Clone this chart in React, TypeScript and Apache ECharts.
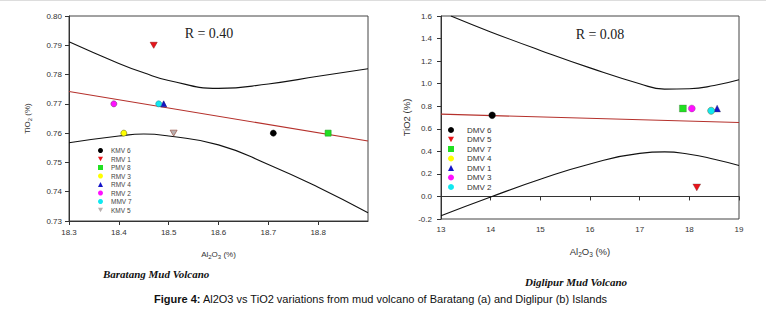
import React, { useEffect, useRef } from "react";
import * as echarts from "echarts";

// ---------- Data: Baratang (left) ----------
const leftNames = ["KMV 6", "RMV 1", "PMV 8", "RMV 3", "RMV 4", "RMV 2", "MMV 7", "KMV 5"];
const leftAl2O3 = [18.71, 18.47, 18.82, 18.41, 18.49, 18.39, 18.48, 18.51];
const leftTiO2 = [0.76, 0.79, 0.76, 0.76, 0.77, 0.77, 0.77, 0.76];
const leftFitX = [18.3, 18.9];
const leftFitY = [0.7742, 0.7573];
const leftBandX = [18.3, 18.4, 18.45, 18.5, 18.6, 18.7, 18.8, 18.9];
const leftUpperY = [0.7912, 0.7838, 0.7806, 0.778, 0.7753, 0.7768, 0.7794, 0.782];
const leftLowerY = [0.7567, 0.759, 0.7597, 0.759, 0.756, 0.7493, 0.7415, 0.7328];
const leftR = "R = 0.40";

// ---------- Data: Diglipur (right) ----------
const rightNames = ["DMV 6", "DMV 5", "DMV 7", "DMV 4", "DMV 1", "DMV 3", "DMV 2"];
const rightAl2O3 = [14.03, 18.15, 17.87, 18.44, 18.56, 18.05, 18.44];
const rightTiO2 = [0.72, 0.08, 0.78, 0.76, 0.78, 0.78, 0.76];
const rightFitX = [13, 19];
const rightFitY = [0.73, 0.655];
const rightUpperX = [13.2, 14, 15, 16, 17, 17.5, 18, 18.5, 19];
const rightUpperY = [1.6, 1.459, 1.295, 1.14, 1.0, 0.952, 0.955, 0.984, 1.035];
const rightLowerX = [13, 14, 15, 16, 17, 17.5, 18, 18.5, 19];
const rightLowerY = [-0.171, -0.005, 0.152, 0.288, 0.382, 0.395, 0.374, 0.33, 0.275];
const rightR = "R = 0.08";

// ---------- Styles ----------
const DOWN = "path://M0,0L10,0L5,9Z";
const leftSymbols = ["circle", DOWN, "rect", "circle", "triangle", "circle", "circle", DOWN];
const leftColors = ["#000000", "#e8141a", "#22e022", "#ffff00", "#1414c8", "#ff10ff", "#10e8f0", "#b8b0b0"];
const leftBorders = ["#000", "#a01010", "#20a020", "#707020", "#101080", "#803080", "#2090a0", "#904030"];
const rightSymbols = ["circle", DOWN, "rect", "circle", "triangle", "circle", "circle"];
const rightColors = ["#000000", "#e8141a", "#22e022", "#ffff00", "#1414c8", "#ff10ff", "#10e8f0"];

const SANS = "'Liberation Sans', Arial, sans-serif";
const SERIF = "'Liberation Serif', 'Times New Roman', serif";

export default function App() {
  const ref = useRef<HTMLDivElement>(null);

  useEffect(() => {
    if (!ref.current) return;
    const chart = echarts.init(ref.current, null, { renderer: "svg" });

    const zip = (xs: number[], ys: number[]) => xs.map((x, i) => [x, ys[i]]);

    const curve = (name: string, data: number[][], idx: number, color: string, smooth: boolean) => ({
      name,
      type: "line",
      xAxisIndex: idx,
      yAxisIndex: idx,
      data,
      symbol: "none",
      smooth: smooth ? 0.5 : false,
      silent: true,
      clip: true,
      lineStyle: { color, width: 1.1 },
      z: 1,
    });

    const scatters: any[] = [];
    leftNames.forEach((n, i) => {
      scatters.push({
        name: n,
        type: "scatter",
        xAxisIndex: 0,
        yAxisIndex: 0,
        data: [[leftAl2O3[i], leftTiO2[i]]],
        symbol: leftSymbols[i],
        symbolSize: leftSymbols[i] === DOWN ? [7, 6] : 6,
        itemStyle: { color: leftColors[i], borderColor: leftBorders[i], borderWidth: 0.6, opacity: 1 },
        z: 3,
      });
    });
    rightNames.forEach((n, i) => {
      scatters.push({
        name: n,
        type: "scatter",
        xAxisIndex: 1,
        yAxisIndex: 1,
        data: [[rightAl2O3[i], rightTiO2[i]]],
        symbol: rightSymbols[i],
        symbolSize: rightSymbols[i] === DOWN ? [8, 7] : 7,
        itemStyle: { color: rightColors[i], borderColor: "#555", borderWidth: 0.3, opacity: 1 },
        z: 3,
      });
    });

    const axisCommon = {
      axisLine: { show: true, lineStyle: { color: "#333", width: 1 } },
      axisTick: { show: true, inside: false, length: 4, lineStyle: { color: "#333" } },
      splitLine: { show: false },
      nameTextStyle: { color: "#333", fontFamily: SANS },
    };

    const option: any = {
      animation: false,
      backgroundColor: "#ffffff",
      title: [
        {
          text: "Baratang Mud Volcano",
          left: 103,
          top: 268,
          padding: 0,
          textStyle: { fontFamily: SERIF, fontStyle: "italic", fontWeight: "bold", fontSize: 11, color: "#111" },
        },
        {
          text: "Diglipur Mud Volcano",
          left: 525,
          top: 276,
          padding: 0,
          textStyle: { fontFamily: SERIF, fontStyle: "italic", fontWeight: "bold", fontSize: 11, color: "#111" },
        },
        {
          text: "{b|Figure 4:} Al2O3 vs TiO2 variations from mud volcano of Baratang (a) and Diglipur (b) Islands",
          left: 154,
          top: 293,
          padding: 0,
          textStyle: {
            fontFamily: SANS,
            fontSize: 11,
            fontWeight: "normal",
            color: "#111",
            rich: { b: { fontFamily: SANS, fontSize: 11, fontWeight: "bold", color: "#111" } },
          },
        },
      ],
      legend: [
        {
          data: leftNames,
          orient: "vertical",
          left: 98,
          top: 147,
          itemWidth: 5,
          itemHeight: 5,
          itemGap: 1.5,
          padding: 0,
          itemStyle: { borderWidth: 0 },
          textStyle: { fontFamily: SANS, fontSize: 6.5, color: "#444", padding: [0, 0, 0, 3] },
        },
        {
          data: rightNames,
          orient: "vertical",
          left: 448,
          top: 126,
          itemWidth: 6,
          itemHeight: 6,
          itemGap: 1.5,
          padding: 0,
          itemStyle: { borderWidth: 0 },
          textStyle: { fontFamily: SANS, fontSize: 8, color: "#333", padding: [0, 0, 0, 8] },
        },
      ],
      grid: [
        { left: 69, top: 16, width: 299, height: 205, show: true, borderColor: "#444", borderWidth: 1, backgroundColor: "transparent" },
        { left: 441, top: 16, width: 298, height: 203, show: true, borderColor: "#444", borderWidth: 1, backgroundColor: "transparent" },
      ],
      xAxis: [
        {
          ...axisCommon,
          type: "value",
          gridIndex: 0,
          min: 18.3,
          max: 18.9,
          interval: 0.1,
          axisLabel: {
            color: "#333",
            fontFamily: SANS,
            fontSize: 8,
            margin: 7,
            showMaxLabel: false,
            formatter: (v: number) => v.toFixed(1),
          },
          name: "Al{s|2}O{s|3} (%)",
          nameLocation: "middle",
          nameGap: 28,
          nameTextStyle: {
            color: "#333",
            fontFamily: SANS,
            fontSize: 8,
            rich: { s: { fontFamily: SANS, fontSize: 6, color: "#333", padding: [5, 0, 0, 0] } },
          },
        },
        {
          ...axisCommon,
          type: "value",
          gridIndex: 1,
          min: 13,
          max: 19,
          interval: 1,
          axisLabel: { color: "#333", fontFamily: SANS, fontSize: 8, margin: 6 },
          name: "Al{s|2}O{s|3} (%)",
          nameLocation: "middle",
          nameGap: 26,
          nameTextStyle: {
            color: "#333",
            fontFamily: SANS,
            fontSize: 9.5,
            rich: { s: { fontFamily: SANS, fontSize: 6.5, color: "#333", padding: [6, 0, 0, 0] } },
          },
        },
      ],
      yAxis: [
        {
          ...axisCommon,
          type: "value",
          gridIndex: 0,
          min: 0.73,
          max: 0.8,
          interval: 0.01,
          axisLabel: { color: "#333", fontFamily: SANS, fontSize: 8, margin: 7, formatter: (v: number) => v.toFixed(2) },
          name: "TiO{s|2} (%)",
          nameLocation: "middle",
          nameGap: 36,
          nameRotate: 90,
          nameTextStyle: {
            color: "#333",
            fontFamily: SANS,
            fontSize: 8,
            rich: { s: { fontFamily: SANS, fontSize: 6, color: "#333", padding: [5, 0, 0, 0] } },
          },
        },
        {
          ...axisCommon,
          type: "value",
          gridIndex: 1,
          min: -0.2,
          max: 1.6,
          interval: 0.2,
          axisLabel: { color: "#333", fontFamily: SANS, fontSize: 8, margin: 9, formatter: (v: number) => v.toFixed(1) },
          name: "TiO2 (%)",
          nameLocation: "middle",
          nameGap: 30,
          nameRotate: 90,
          nameTextStyle: { color: "#333", fontFamily: SANS, fontSize: 9.5 },
        },
      ],
      graphic: [
        { type: "line", shape: { x1: 0, y1: 0.5, x2: 766, y2: 0.5 }, style: { stroke: "#dddddd", lineWidth: 1 } },
        {
          type: "text",
          x: 209,
          y: 33,
          style: { text: leftR, font: `14px ${SERIF}`, fill: "#222", align: "center", verticalAlign: "middle" },
        },
        {
          type: "text",
          x: 600,
          y: 34,
          style: { text: rightR, font: `14px ${SERIF}`, fill: "#222", align: "center", verticalAlign: "middle" },
        },
      ],
      series: [
        curve("fitL", zip(leftFitX, leftFitY), 0, "#b5312c", false),
        curve("upL", zip(leftBandX, leftUpperY), 0, "#111", true),
        curve("loL", zip(leftBandX, leftLowerY), 0, "#111", true),
        curve("fitR", zip(rightFitX, rightFitY), 1, "#b5312c", false),
        curve("upR", zip(rightUpperX, rightUpperY), 1, "#111", true),
        curve("loR", zip(rightLowerX, rightLowerY), 1, "#111", true),
        ...scatters,
      ],
    };

    chart.setOption(option);
    return () => chart.dispose();
  }, []);

  return (
    <div
      ref={ref}
      style={{ position: "fixed", left: 0, top: 0, width: 766, height: 309, background: "#fff" }}
    />
  );
}
